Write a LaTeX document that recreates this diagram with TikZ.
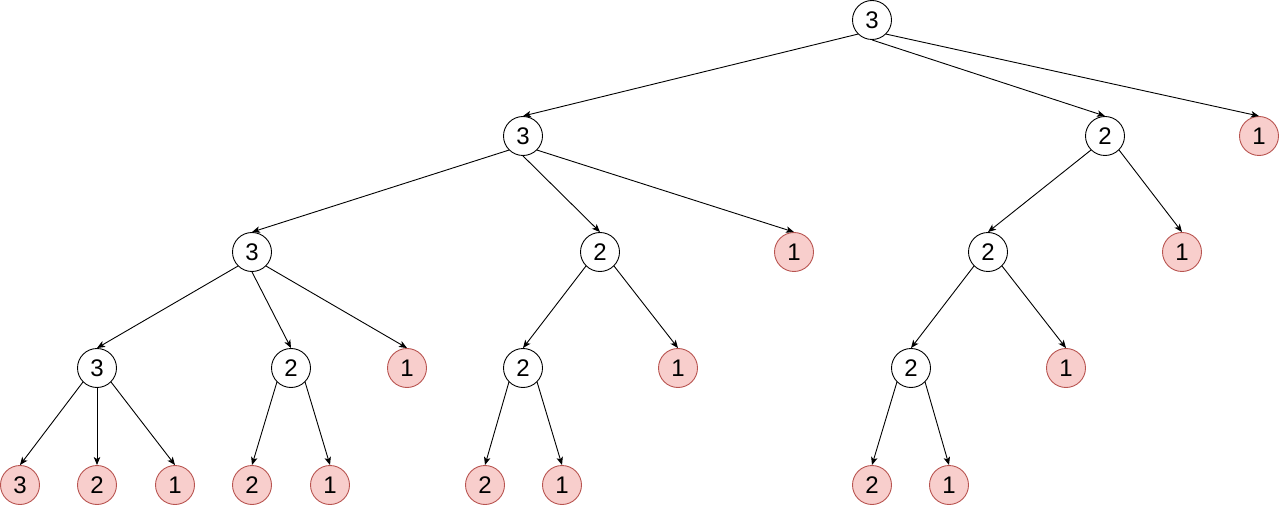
\documentclass[tikz,border=0pt]{standalone}
\usepackage{fontspec}
\setmainfont{Liberation Sans}
\usetikzlibrary{arrows.meta}
\begin{document}
\begin{tikzpicture}[x=1pt,y=-1pt,
  nd/.style={circle,draw=black,fill=white,line width=0.9pt,minimum size=39pt,inner sep=0pt,font=\fontsize{24}{24}\selectfont},
  pk/.style={nd,draw={rgb,255:red,184;green,84;blue,80},fill={rgb,255:red,248;green,206;blue,204}},
  ed/.style={draw=black,line width=0.9pt,-{Stealth[length=8pt,width=6.5pt,inset=2pt]}}]
\useasboundingbox (0,0) rectangle (1280,505);
\node[nd] (r) at (872,20) {3};
\node[nd] (a) at (523,136) {3};
\node[nd] (b) at (1105,136) {2};
\node[pk] (c) at (1259,136) {1};
\node[nd] (d) at (252,252) {3};
\node[nd] (e) at (600,252) {2};
\node[pk] (f) at (794,252) {1};
\node[nd] (g) at (988,252) {2};
\node[pk] (h) at (1182,252) {1};
\node[nd] (i) at (97,368) {3};
\node[nd] (j) at (291,368) {2};
\node[pk] (k) at (407,368) {1};
\node[nd] (l) at (523,368) {2};
\node[pk] (m) at (678,368) {1};
\node[nd] (n) at (911,368) {2};
\node[pk] (o) at (1066,368) {1};
\node[pk] (p1) at (20,485) {3};
\node[pk] (p2) at (97,485) {2};
\node[pk] (p3) at (175,485) {1};
\node[pk] (p4) at (252,485) {2};
\node[pk] (p5) at (330,485) {1};
\node[pk] (p6) at (485,485) {2};
\node[pk] (p7) at (562,485) {1};
\node[pk] (p8) at (872,485) {2};
\node[pk] (p9) at (949,485) {1};
\draw[ed] (r.south west) -- (a.north);
\draw[ed] (r.south) -- (b.north);
\draw[ed] (r.south east) -- (c.north);
\draw[ed] (a.south west) -- (d.north);
\draw[ed] (a.south) -- (e.north);
\draw[ed] (a.south east) -- (f.north);
\draw[ed] (b.south west) -- (g.north);
\draw[ed] (b.south east) -- (h.north);
\draw[ed] (d.south west) -- (i.north);
\draw[ed] (d.south) -- (j.north);
\draw[ed] (d.south east) -- (k.north);
\draw[ed] (e.south west) -- (l.north);
\draw[ed] (e.south east) -- (m.north);
\draw[ed] (g.south west) -- (n.north);
\draw[ed] (g.south east) -- (o.north);
\draw[ed] (i.south west) -- (p1.north);
\draw[ed] (i.south) -- (p2.north);
\draw[ed] (i.south east) -- (p3.north);
\draw[ed] (j.south west) -- (p4.north);
\draw[ed] (j.south east) -- (p5.north);
\draw[ed] (l.south west) -- (p6.north);
\draw[ed] (l.south east) -- (p7.north);
\draw[ed] (n.south west) -- (p8.north);
\draw[ed] (n.south east) -- (p9.north);
\end{tikzpicture}
\end{document}
